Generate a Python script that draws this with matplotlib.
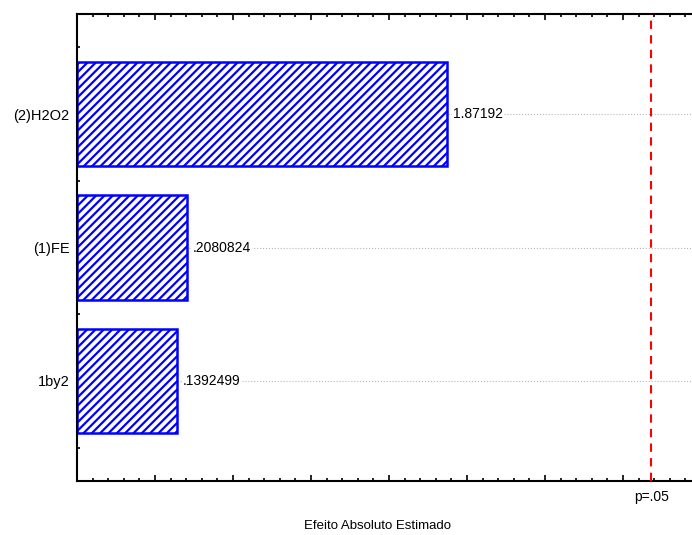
import matplotlib
matplotlib.use('Agg')
import matplotlib.pyplot as plt
import matplotlib.transforms as mtransforms
from matplotlib.ticker import MultipleLocator, FixedLocator

plt.rcParams['font.family'] = ['Liberation Sans', 'DejaVu Sans']
plt.rcParams['hatch.linewidth'] = 1.6

# Pareto dos efeitos (valores absolutos de t)
efeitos = ['1by2', '(1)FE', '(2)H2O2']
valores = [0.1392499, 0.2080824, 1.87192]
rotulos = ['.1392499', '.2080824', '1.87192']
t_critico = 3.182  # limite p=.05
x_min, x_max = -0.5, 3.5

azul = '#0000ff'

fig = plt.figure(figsize=(6.92, 5.35), dpi=100)
ax = fig.add_axes([77 / 692, 54 / 535, 624 / 692, 467 / 535])

pos = list(range(len(efeitos)))
ax.barh(pos, [v - x_min for v in valores], left=x_min, height=0.78,
        color='white', edgecolor=azul, hatch='////', linewidth=1.8, zorder=2)

for i, (v, r) in enumerate(zip(valores, rotulos)):
    ax.annotate(r, xy=(v, i), xytext=(4, 0), textcoords='offset points',
                ha='left', va='center', fontsize=10, zorder=3,
                bbox=dict(facecolor='white', edgecolor='none', pad=0.5))

ax.axvline(t_critico, color='red', linestyle=(0, (4, 3)), linewidth=1.5, zorder=4)
trans = mtransforms.blended_transform_factory(ax.transData, ax.transAxes)
ax.text(t_critico, -0.034, 'p=.05', transform=trans, ha='center', va='center', fontsize=10)

ax.set_xlim(x_min, x_max)
ax.set_ylim(-0.75, 2.75)
ax.xaxis.set_major_locator(MultipleLocator(0.5))
ax.xaxis.set_minor_locator(MultipleLocator(0.1))
ax.set_yticks(pos)
ax.set_yticklabels(efeitos, fontsize=10.5)
ax.yaxis.set_minor_locator(FixedLocator([p + 0.5 for p in [-1] + pos]))

ax.tick_params(which='both', direction='in', top=True, bottom=True, left=True, right=False,
               labelbottom=False, width=1.2, color='black')
ax.tick_params(which='major', length=4, pad=5.5)
ax.tick_params(which='minor', length=2)

ax.yaxis.grid(True, which='major', color='#b8b8b8', linestyle=':', linewidth=0.8)
ax.set_axisbelow(True)

for s in ['left', 'bottom', 'top']:
    ax.spines[s].set_linewidth(1.5)
ax.spines['right'].set_visible(False)

ax.set_xlabel('Efeito Absoluto Estimado', fontsize=9.5)
ax.xaxis.set_label_coords((377.5 - 77) / 624, -(520 - 481) / 467)

fig.savefig('out.png', dpi=100)
